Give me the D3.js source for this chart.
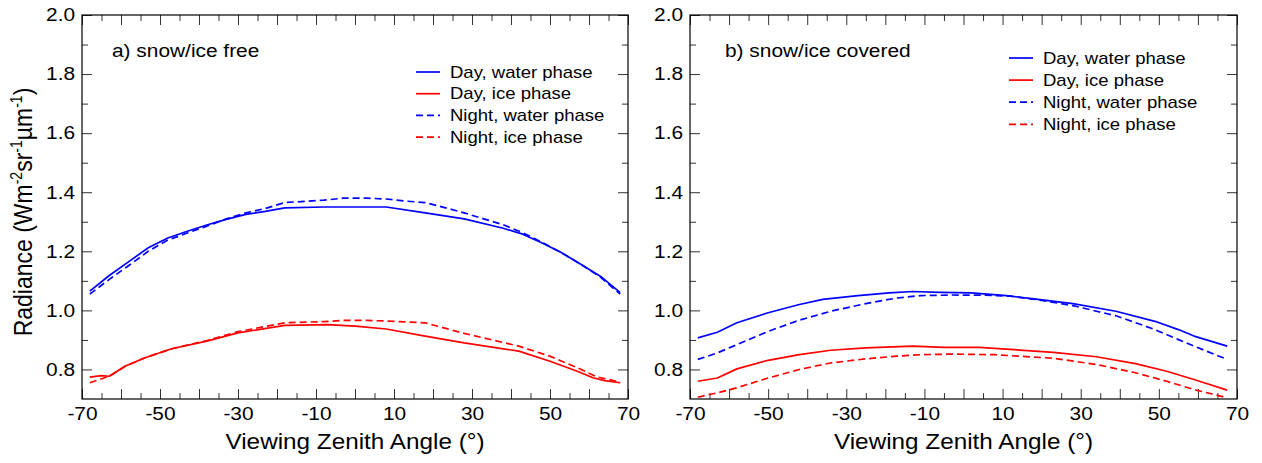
<!DOCTYPE html>
<html><head><meta charset="utf-8">
<script src="https://cdn.jsdelivr.net/npm/d3@7"></script>
<style>body{margin:0;background:#fff} text{font-family:"Liberation Sans",Arial,Helvetica,sans-serif}</style>
</head><body><svg id="c" width="1262" height="463"></svg>
<script>
// ---------- data ----------
const xMajorTicks = [-70,-60,-50,-40,-30,-20,-10,0,10,20,30,40,50,60,70];
const xMinorTicks = [-65,-55,-45,-35,-25,-15,-5,5,15,25,35,45,55,65];
const xTickLabels = [-70,-50,-30,-10,10,30,50,70];
const yMajorTicks = [0.8,1.0,1.2,1.4,1.6,1.8,2.0];
const yMinorTicks = [0.9,1.1,1.3,1.5,1.7,1.9];
const seriesNames = ["Day, water phase","Day, ice phase","Night, water phase","Night, ice phase"];
const panelTitles = ["a) snow/ice free","b) snow/ice covered"];

// panel a) snow/ice free
const aDayWaterVza = [-68,-63,-58,-53,-48,-43,-38,-33,-28,-23,-18,-8,8,18,28,38,43,48,53,58,63,68];
const aDayWaterRad = [1.065,1.118,1.165,1.212,1.245,1.268,1.289,1.308,1.325,1.335,1.347,1.350,1.350,1.330,1.310,1.278,1.258,1.228,1.195,1.155,1.115,1.060];
const aNightWaterVza = [-68,-63,-58,-53,-48,-43,-38,-33,-28,-23,-18,-8,-3,3,8,13,18,23,28,33,38,43,48,53,58,63,68];
const aNightWaterRad = [1.055,1.105,1.152,1.200,1.238,1.262,1.285,1.310,1.330,1.345,1.365,1.373,1.380,1.380,1.377,1.370,1.365,1.348,1.330,1.310,1.290,1.263,1.230,1.195,1.155,1.112,1.055];
const aDayIceVza = [-68,-65,-63,-59,-54,-47,-38,-30,-18,-7,0,8,18,28,42,50,57,61,64,68];
const aDayIceRad = [0.774,0.779,0.777,0.811,0.839,0.870,0.896,0.924,0.949,0.952,0.947,0.937,0.913,0.890,0.862,0.828,0.794,0.772,0.762,0.755];
const aNightIceVza = [-68,-63,-59,-54,-47,-38,-30,-18,-8,-3,3,8,18,28,42,50,57,62,68];
const aNightIceRad = [0.755,0.777,0.810,0.839,0.870,0.898,0.928,0.958,0.962,0.966,0.966,0.964,0.958,0.922,0.879,0.845,0.806,0.775,0.757];

// panel b) snow/ice covered
const bDayWaterVza = [-68,-63,-58,-50,-42,-36,-27,-19,-13,-6,2,11,18,28,39,49,55,59,67.5];
const bDayWaterRad = [0.907,0.926,0.958,0.992,1.020,1.037,1.050,1.059,1.064,1.061,1.059,1.050,1.039,1.023,0.997,0.963,0.935,0.913,0.879];
const bNightWaterVza = [-68,-63,-58,-50,-42,-34,-25,-17,-11,-3,5,12,20,28,39,49,55,59,67.5];
const bNightWaterRad = [0.834,0.856,0.884,0.929,0.967,0.997,1.023,1.042,1.050,1.052,1.052,1.048,1.034,1.016,0.982,0.935,0.901,0.879,0.834];
const bDayIceVza = [-68,-63,-58,-50,-42,-34,-25,-13,-5,4,13,23,34,44,52,59,67.5];
const bDayIceRad = [0.760,0.771,0.802,0.831,0.850,0.865,0.873,0.879,0.875,0.875,0.867,0.858,0.843,0.820,0.794,0.766,0.730];
const bNightIceVza = [-68,-63,-58,-50,-42,-34,-25,-17,-11,-3,8,14,23,34,44,52,59,67.5];
const bNightIceRad = [0.706,0.721,0.738,0.771,0.800,0.822,0.836,0.845,0.850,0.852,0.850,0.845,0.838,0.817,0.789,0.760,0.732,0.704];

// ---------- drawing ----------
const SX = 1.16;
const BLUE = "#0000ff", RED = "#ff0000";
const svg = d3.select("#c");
svg.append("rect").attr("width",1262).attr("height",463).attr("fill","#fff");

const zip = (a,b) => a.map((v,i)=>[v,b[i]]);

function stretchedText(g, x, y, str, size, anchor, sx) {
  return g.append("text")
    .attr("transform", `translate(${x},${y}) scale(${sx||SX},1)`)
    .attr("text-anchor", anchor||"start")
    .attr("font-size", size)
    .attr("fill", "#000")
    .text(str);
}

function panel(cfg) {
  const g = svg.append("g");
  const x = d3.scaleLinear().domain([-70,70]).range([cfg.x0,cfg.x1]);
  const y = d3.scaleLinear().domain([0.7,2.0]).range([cfg.y1,cfg.y0]);

  const styleAxis = sel => {
    sel.select(".domain").remove();
    sel.selectAll(".tick line").attr("stroke","#333").attr("stroke-width",1);
    sel.attr("font-family",null).attr("font-size",null);
  };

  // bottom
  g.append("g").attr("transform",`translate(0,${cfg.y1})`)
    .call(d3.axisBottom(x).tickValues(xMajorTicks).tickSize(-10).tickPadding(8)
      .tickFormat(d => xTickLabels.includes(d) ? String(d) : ""))
    .call(styleAxis)
    .call(s => s.selectAll("text").attr("font-size",18).attr("fill","#000")
      .attr("transform",`scale(${SX},1)`));
  g.append("g").attr("transform",`translate(0,${cfg.y1})`)
    .call(d3.axisBottom(x).tickValues(xMinorTicks).tickSize(-6).tickFormat(""))
    .call(styleAxis);
  // top
  g.append("g").attr("transform",`translate(0,${cfg.y0})`)
    .call(d3.axisTop(x).tickValues(xMajorTicks).tickSize(-10).tickFormat(""))
    .call(styleAxis);
  g.append("g").attr("transform",`translate(0,${cfg.y0})`)
    .call(d3.axisTop(x).tickValues(xMinorTicks).tickSize(-6).tickFormat(""))
    .call(styleAxis);
  // left
  g.append("g").attr("transform",`translate(${cfg.x0},0)`)
    .call(d3.axisLeft(y).tickValues(yMajorTicks).tickSize(-10).tickPadding(6)
      .tickFormat(d3.format(".1f")))
    .call(styleAxis)
    .call(s => s.selectAll("text").attr("font-size",18).attr("fill","#000")
      .attr("transform",`scale(${SX},1)`));
  g.append("g").attr("transform",`translate(${cfg.x0},0)`)
    .call(d3.axisLeft(y).tickValues(yMinorTicks).tickSize(-6).tickFormat(""))
    .call(styleAxis);
  // right
  g.append("g").attr("transform",`translate(${cfg.x1},0)`)
    .call(d3.axisRight(y).tickValues(yMajorTicks).tickSize(-10).tickFormat(""))
    .call(styleAxis);
  g.append("g").attr("transform",`translate(${cfg.x1},0)`)
    .call(d3.axisRight(y).tickValues(yMinorTicks).tickSize(-6).tickFormat(""))
    .call(styleAxis);

  // frame
  g.append("rect").attr("x",cfg.x0).attr("y",cfg.y0)
    .attr("width",cfg.x1-cfg.x0).attr("height",cfg.y1-cfg.y0)
    .attr("fill","none").attr("stroke","#000").attr("stroke-width",1.2);

  // curves
  const line = d3.line().x(d=>x(d[0])).y(d=>y(d[1]));
  cfg.series.forEach(s => {
    g.append("path").datum(zip(s.vza,s.rad)).attr("d",line)
      .attr("fill","none").attr("stroke",s.color).attr("stroke-width",1.7)
      .attr("stroke-dasharray", s.dash ? "7,4" : null)
      .attr("stroke-linejoin","round");
  });

  // panel label
  stretchedText(g, cfg.labelX, 57, cfg.title, 18, "start");

  // legend
  cfg.series.forEach((s,i) => {
    const ly = cfg.legY + i*cfg.legDy;
    g.append("line").attr("x1",cfg.legX).attr("x2",cfg.legX+24)
      .attr("y1",ly).attr("y2",ly)
      .attr("stroke",s.color).attr("stroke-width",1.7)
      .attr("stroke-dasharray", s.dash ? "7,4" : null);
    stretchedText(g, cfg.legX+34, ly+5.5, s.name, 15.7, "start", 1.18);
  });

  // x title
  stretchedText(g, (cfg.x0+cfg.x1)/2, 449, "Viewing Zenith Angle (°)", 21.5, "middle", 1.13);
}

panel({x0:82, x1:628, y0:15, y1:399, title:panelTitles[0], labelX:112,
  legX:416, legY:72, legDy:21.7,
  series:[
    {name:seriesNames[0], vza:aDayWaterVza, rad:aDayWaterRad, color:BLUE, dash:false},
    {name:seriesNames[1], vza:aDayIceVza, rad:aDayIceRad, color:RED, dash:false},
    {name:seriesNames[2], vza:aNightWaterVza, rad:aNightWaterRad, color:BLUE, dash:true},
    {name:seriesNames[3], vza:aNightIceVza, rad:aNightIceRad, color:RED, dash:true}
  ]});
panel({x0:690, x1:1237, y0:15, y1:399, title:panelTitles[1], labelX:725,
  legX:1009, legY:58, legDy:22.1,
  series:[
    {name:seriesNames[0], vza:bDayWaterVza, rad:bDayWaterRad, color:BLUE, dash:false},
    {name:seriesNames[1], vza:bDayIceVza, rad:bDayIceRad, color:RED, dash:false},
    {name:seriesNames[2], vza:bNightWaterVza, rad:bNightWaterRad, color:BLUE, dash:true},
    {name:seriesNames[3], vza:bNightIceVza, rad:bNightIceRad, color:RED, dash:true}
  ]});

// y axis title (left panel only)
const yt = svg.append("text")
  .attr("transform","translate(32,212) scale(1.12,1) rotate(-90)")
  .attr("text-anchor","middle").attr("font-size",23).attr("fill","#000");
yt.append("tspan").text("Radiance (Wm");
yt.append("tspan").attr("dy",-9).attr("font-size",14).text("-2");
yt.append("tspan").attr("dy",9).text("sr");
yt.append("tspan").attr("dy",-9).attr("font-size",14).text("-1");
yt.append("tspan").attr("dy",9).text("µm");
yt.append("tspan").attr("dy",-9).attr("font-size",14).text("-1");
yt.append("tspan").attr("dy",9).text(")");
</script></body></html>
